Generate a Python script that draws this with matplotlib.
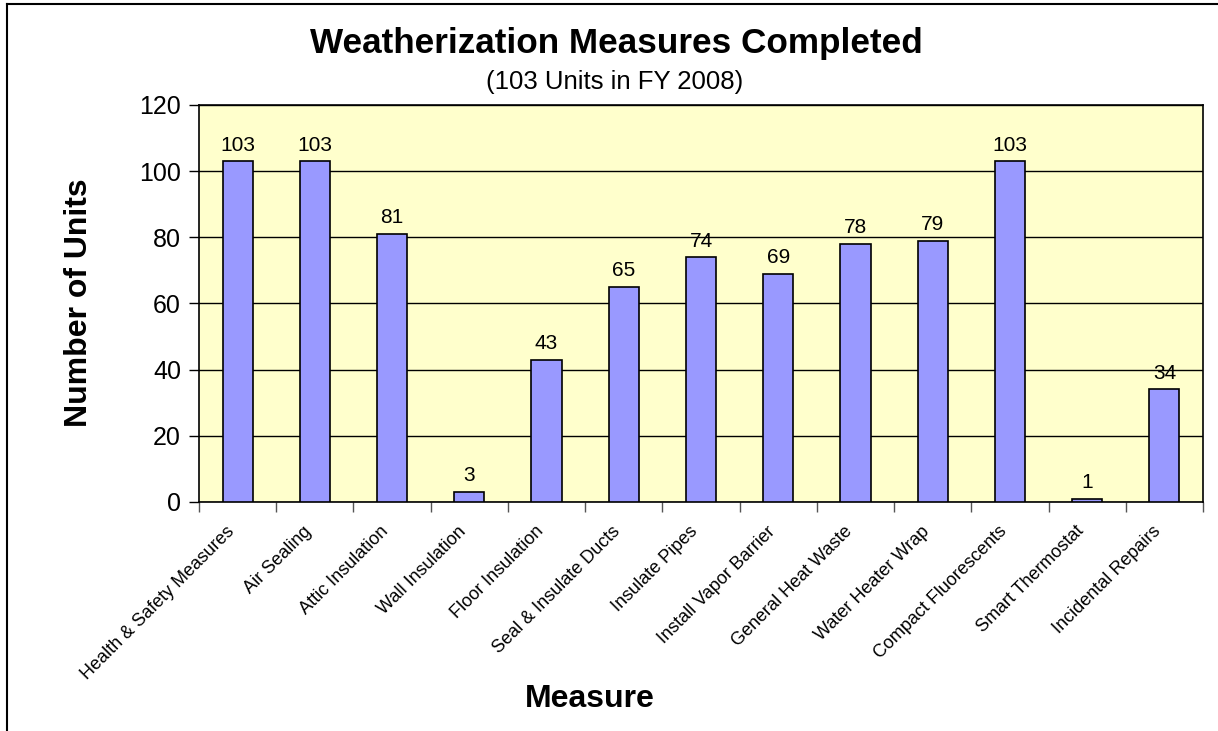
import matplotlib.pyplot as plt
import matplotlib.transforms as mtransforms
from matplotlib.lines import Line2D
import numpy as np

plt.rcParams['font.family'] = ['Liberation Sans', 'DejaVu Sans']

measures = ['Health & Safety Measures', 'Air Sealing', 'Attic Insulation',
            'Wall Insulation', 'Floor Insulation', 'Seal & Insulate Ducts',
            'Insulate Pipes', 'Install Vapor Barrier', 'General Heat Waste',
            'Water Heater Wrap', 'Compact Fluorescents', 'Smart Thermostat',
            'Incidental Repairs']
units = [103, 103, 81, 3, 43, 65, 74, 69, 78, 79, 103, 1, 34]
y_ticks = [0, 20, 40, 60, 80, 100, 120]

fig = plt.figure(figsize=(12.18, 7.31), dpi=100)
ax = fig.add_axes([0.1634, 0.3133, 0.8243, 0.5431])
ax.set_facecolor('#FFFFCC')

x = np.arange(len(measures))
ax.bar(x, units, width=0.39, color='#9999FF', edgecolor='black', linewidth=1.2, zorder=3)
for xi, v in zip(x, units):
    ax.text(xi, v + 2, str(v), ha='center', va='bottom', fontsize=15, zorder=4)

ax.set_xlim(-0.5, len(measures) - 0.5)
ax.set_ylim(0, 120)
ax.set_yticks(y_ticks)
ax.tick_params(axis='y', labelsize=18, direction='out', length=7, width=1, pad=6)
ax.yaxis.grid(True, color='black', linewidth=1, zorder=1)

# category ticks sit on the boundaries, labels at the centers
ax.set_xticks(np.arange(len(measures) + 1) - 0.5)
ax.set_xticklabels([])
ax.tick_params(axis='x', direction='out', length=7, width=1, color='#555555')
ax.set_xticks(x, minor=True)
ax.set_xticklabels(measures, minor=True, rotation=45, ha='right',
                   rotation_mode='anchor', fontsize=13)
ax.tick_params(axis='x', which='minor', length=0, pad=15)
shift = mtransforms.ScaledTranslation(-0.12, 0, fig.dpi_scale_trans)
for lbl in ax.get_xticklabels(minor=True):
    lbl.set_transform(lbl.get_transform() + shift)

for s in ax.spines.values():
    s.set_color('black')
    s.set_linewidth(1.2)

fig.text(0.0649, 0.5855, 'Number of Units', rotation=90, ha='center', va='center',
         fontsize=23, fontweight='bold')
fig.text(0.4844, 0.044, 'Measure', ha='center', va='center', fontsize=23, fontweight='bold')

fig.text(0.5057, 0.941, 'Weatherization Measures Completed', ha='center', va='center',
         fontsize=25.3, fontweight='bold')
fig.text(0.5049, 0.888, '(103 Units in FY 2008)', ha='center', va='center', fontsize=18.5)

# outer border (top and left edges)
fig.add_artist(Line2D([7 / 1218, 7 / 1218], [0, 1 - 4 / 731], transform=fig.transFigure,
                      color='black', linewidth=1.5))
fig.add_artist(Line2D([7 / 1218, 1], [1 - 4 / 731, 1 - 4 / 731], transform=fig.transFigure,
                      color='black', linewidth=1.5))

fig.savefig('out.png', dpi=100)
